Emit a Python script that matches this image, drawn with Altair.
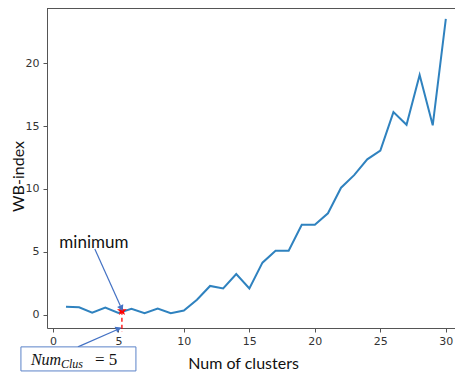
import altair as alt
import pandas as pd

# ---- data ----
num_clusters = list(range(1, 31))
wb_index = [0.65, 0.6, 0.18, 0.58, 0.15, 0.48, 0.13, 0.5, 0.13, 0.35,
            1.2, 2.3, 2.1, 3.25, 2.1, 4.15, 5.1, 5.1, 7.15, 7.15,
            8.07, 10.1, 11.1, 12.35, 13.05, 16.1, 15.1, 19.05, 15.05, 23.5]
x_ticks = [0, 5, 10, 15, 20, 25, 30]
y_ticks = [0, 5, 10, 15, 20]

# annotation anchors (data units)
star_x, star_y = [5.27], [0.32]
min_label = ["minimum"]
min_label_x, min_label_y = [3.13], [5.71]
arrow1 = {"x": [3.2], "y": [5.24], "x2": [5.15], "y2": [0.72]}
arrow2 = {"x": [1.91], "y": [-2.54], "x2": [4.85], "y2": [-1.2]}
head1 = {"x": [5.2], "y": [0.6]}
head2 = {"x": [4.95], "y": [-1.12]}
box = {"x": [-2.44], "x2": [6.34], "y": [-2.54], "y2": [-4.45]}

W, H = 408, 320
xs = alt.Scale(domain=[-0.45, 30.70], nice=False, zero=False)
ys = alt.Scale(domain=[-1.04, 24.37], nice=False, zero=False)

df = pd.DataFrame({"k": num_clusters, "wb": wb_index})

axis_common = dict(grid=False, domainColor="#555", tickColor="#555",
                   labelColor="#333", labelFont="DejaVu Sans", labelFontSize=11,
                   tickSize=4, titleFont="Lato", titleFontSize=16,
                   titleFontWeight="normal", titleColor="#111")

line = alt.Chart(df).mark_line(color="#2f82bf", strokeWidth=2).encode(
    x=alt.X("k:Q", scale=xs, axis=alt.Axis(values=x_ticks, title="Num of clusters",
                                           labelPadding=3, titleX=196, titleY=35,
                                           titleBaseline="middle", **axis_common)),
    y=alt.Y("wb:Q", scale=ys, axis=alt.Axis(values=y_ticks, title="WB-index",
                                            labelPadding=4, titleX=-29, titleY=168,
                                            titleAngle=-90, titleAlign="center",
                                            titleBaseline="middle", **axis_common)),
)

top_spine = alt.Chart(pd.DataFrame({"a": [0]})).mark_rule(color="#555", strokeWidth=1).encode(
    x=alt.value(0), x2=alt.value(W), y=alt.value(0.5))

sdf = pd.DataFrame({"x": star_x, "y": star_y})
dashed = alt.Chart(sdf).mark_rule(color="red", strokeDash=[4, 3], strokeWidth=1.3).encode(
    x=alt.X("x:Q", scale=xs), y=alt.Y("y:Q", scale=ys), y2=alt.value(H + 4))

star_path = "M0,-1L0.24,-0.32L0.95,-0.31L0.38,0.12L0.59,0.81L0,0.4L-0.59,0.81L-0.38,0.12L-0.95,-0.31L-0.24,-0.32Z"
star = alt.Chart(sdf).mark_point(shape=star_path, filled=True, color="red", size=110, opacity=1).encode(
    x=alt.X("x:Q", scale=xs), y=alt.Y("y:Q", scale=ys))

arrow_color = "#4472C4"
a1 = alt.Chart(pd.DataFrame(arrow1)).mark_rule(color=arrow_color, strokeWidth=1.2).encode(
    x=alt.X("x:Q", scale=xs), y=alt.Y("y:Q", scale=ys), x2="x2:Q", y2="y2:Q")
a2 = alt.Chart(pd.DataFrame(arrow2)).mark_rule(color=arrow_color, strokeWidth=1.2).encode(
    x=alt.X("x:Q", scale=xs), y=alt.Y("y:Q", scale=ys), x2="x2:Q", y2="y2:Q")
h1 = alt.Chart(pd.DataFrame(head1)).mark_point(shape="triangle", filled=True, color=arrow_color,
                                                size=45, angle=156, opacity=1).encode(
    x=alt.X("x:Q", scale=xs), y=alt.Y("y:Q", scale=ys))
h2 = alt.Chart(pd.DataFrame(head2)).mark_point(shape="triangle", filled=True, color=arrow_color,
                                                size=45, angle=66, opacity=1).encode(
    x=alt.X("x:Q", scale=xs), y=alt.Y("y:Q", scale=ys))

mtext = alt.Chart(pd.DataFrame({"x": min_label_x, "y": min_label_y, "t": min_label})).mark_text(
    font="Lato", fontSize=17, color="#111", align="center", baseline="middle").encode(
    x=alt.X("x:Q", scale=xs), y=alt.Y("y:Q", scale=ys), text="t:N")

rect = alt.Chart(pd.DataFrame(box)).mark_rect(fill="white", stroke="#5b82c8", strokeWidth=1).encode(
    x=alt.X("x:Q", scale=xs), x2="x2:Q", y=alt.Y("y:Q", scale=ys), y2="y2:Q")

box_parts = pd.DataFrame({
    "t": ["Num", "Clus", "= 5"],
    "x": [-1.68, 0.62, 3.21],
    "y": [-3.98, -4.22, -3.98],
})
t_num = alt.Chart(box_parts.iloc[[0]]).mark_text(font="Liberation Serif", fontStyle="italic",
    fontSize=16, align="left", baseline="alphabetic", color="#111").encode(
    x=alt.X("x:Q", scale=xs), y=alt.Y("y:Q", scale=ys), text="t:N")
t_sub = alt.Chart(box_parts.iloc[[1]]).mark_text(font="Liberation Serif", fontStyle="italic",
    fontSize=12, align="left", baseline="alphabetic", color="#111").encode(
    x=alt.X("x:Q", scale=xs), y=alt.Y("y:Q", scale=ys), text="t:N")
t_eq = alt.Chart(box_parts.iloc[[2]]).mark_text(font="Liberation Serif",
    fontSize=17, align="left", baseline="alphabetic", color="#111").encode(
    x=alt.X("x:Q", scale=xs), y=alt.Y("y:Q", scale=ys), text="t:N")

chart = alt.layer(top_spine, line, dashed, star, a1, h1, mtext, a2, h2, rect, t_num, t_sub, t_eq).properties(
    width=W, height=H,
    autosize=alt.AutoSizeParams(type="none"),
    padding={"left": 39, "top": 0, "right": 0, "bottom": 44},
).configure_view(stroke=None).configure(background="white")

chart.save("out.html", embed_options={"renderer": "svg", "actions": False})
